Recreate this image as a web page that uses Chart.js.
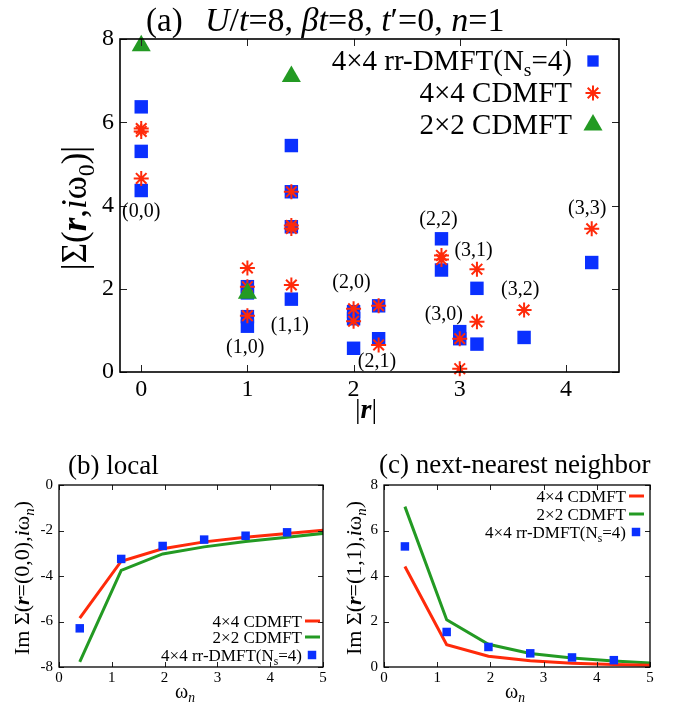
<!DOCTYPE html>
<html>
<head>
<meta charset="utf-8">
<script src="https://cdn.jsdelivr.net/npm/chart.js@4.4.0/dist/chart.umd.min.js"></script>
<style>
  body { margin: 0; background: #fff; }
  #wrap { position: relative; width: 678px; height: 706px; }
  canvas { position: absolute; }
</style>
</head>
<body>
<div id="wrap">
  <canvas id="chartA" width="678" height="430" style="left:0;top:0"></canvas>
  <canvas id="chartB" width="340" height="286" style="left:0;top:420px"></canvas>
  <canvas id="chartC" width="338" height="286" style="left:340px;top:420px"></canvas>
</div>
<script>
// ---- panel (a): |Sigma(r, i w0)| vs |r|
const sites = ['(0,0)', '(1,0)', '(1,1)', '(2,0)', '(2,1)', '(2,2)', '(3,0)', '(3,1)', '(3,2)', '(3,3)'];
const siteR = [0, 1, 1.414, 2, 2.236, 2.828, 3, 3.162, 3.606, 4.243];
const rrDmft = [[6.37, 5.30, 4.36], [2.05, 1.9, 1.33, 1.1], [5.44, 4.33, 3.49, 1.75], [1.45, 1.28, 0.57],
  [1.59, 0.8], [3.2, 2.45], [0.97, 0.8], [2.01, 0.67], [0.83], [2.63]];
const cdmft4 = [[5.85, 5.78, 4.65], [2.5, 2.05, 1.35], [4.33, 3.52, 3.45, 2.09], [1.52, 1.22],
  [1.59, 0.65], [2.8, 2.7], [0.8, 0.08], [2.47, 1.21], [1.49], [3.44]];
const cdmft2 = [[7.84], [1.89], [7.1], [], [], [], [], [], [], []];
const siteLabelR = [0, 0.98, 1.4, 1.98, 2.22, 2.8, 2.85, 3.13, 3.57, 4.2];
const siteLabelY = [3.85, 0.58, 1.1, 2.14, 0.25, 3.65, 1.37, 2.92, 1.97, 3.93];
const xTicksA = [0, 1, 2, 3, 4];
const yTicksA = [0, 2, 4, 6, 8];

// ---- panels (b), (c): Im Sigma vs Matsubara frequency
const omega = [0.393, 1.178, 1.963, 2.749, 3.534, 4.320, 5.105];
const localCdmft4 = [-5.85, -3.35, -2.8, -2.5, -2.3, -2.13, -1.97];
const localCdmft2 = [-7.77, -3.75, -3.03, -2.72, -2.48, -2.3, -2.1];
const localRr = [-6.3, -3.25, -2.68, -2.4, -2.23, -2.08];
const nnnCdmft4 = [4.42, 0.98, 0.47, 0.27, 0.17, 0.11, 0.07];
const nnnCdmft2 = [7.05, 2.08, 1.0, 0.59, 0.4, 0.26, 0.16];
const nnnRr = [5.3, 1.54, 0.88, 0.6, 0.42, 0.3];
const xTicksBC = [0, 1, 2, 3, 4, 5];
const yTicksB = [-8, -6, -4, -2, 0];
const yTicksC = [0, 2, 4, 6, 8];

const SERIF = '"Liberation Serif", "Times New Roman", serif';
const BLUE = '#0a30ff', RED = '#ff2a0a', GREEN = '#239a23';

const pts = (xs, ys) => ys.map((y, i) => ({ x: xs[i], y }));
const sitePts = vals => vals.flatMap((v, i) => v.map(y => ({ x: siteR[i], y })));

// rich text: segments {t, f:'italic'|'bold italic', sub}
function segFont(s, size) {
  const sz = s.sub ? size * 0.68 : size;
  return (s.f ? s.f + ' ' : '') + sz + 'px ' + SERIF;
}
function drawRich(ctx, segs, x, y, size, align, rotate) {
  ctx.save();
  ctx.translate(x, y);
  if (rotate) ctx.rotate(-Math.PI / 2);
  let w = 0;
  segs.forEach(s => { ctx.font = segFont(s, size); w += ctx.measureText(s.t).width; });
  let cx = align === 'center' ? -w / 2 : align === 'right' ? -w : 0;
  ctx.textAlign = 'left';
  ctx.textBaseline = 'alphabetic';
  ctx.fillStyle = '#000';
  segs.forEach(s => {
    ctx.font = segFont(s, size);
    ctx.fillText(s.t, cx, s.sub ? size * 0.22 : 0);
    cx += ctx.measureText(s.t).width;
  });
  ctx.restore();
}

// box + inward ticks on all four sides
function framePlugin(tickLen, lw) {
  return {
    id: 'frame',
    afterDatasetsDraw(chart) {
      const { ctx, chartArea: a, scales } = chart;
      ctx.save();
      ctx.strokeStyle = '#222';
      ctx.lineWidth = 1;
      ctx.beginPath();
      scales.x.ticks.forEach(t => {
        const px = Math.round(scales.x.getPixelForValue(t.value)) + 0.5;
        ctx.moveTo(px, a.bottom); ctx.lineTo(px, a.bottom - tickLen);
        ctx.moveTo(px, a.top); ctx.lineTo(px, a.top + tickLen);
      });
      scales.y.ticks.forEach(t => {
        const py = Math.round(scales.y.getPixelForValue(t.value)) + 0.5;
        ctx.moveTo(a.left, py); ctx.lineTo(a.left + tickLen, py);
        ctx.moveTo(a.right, py); ctx.lineTo(a.right - tickLen, py);
      });
      ctx.stroke();
      ctx.strokeStyle = '#000';
      ctx.lineWidth = lw;
      ctx.strokeRect(a.left, a.top, a.right - a.left, a.bottom - a.top);
      ctx.restore();
    }
  };
}

function axes(xMin, xMax, xTicks, yMin, yMax, yTicks, fontSize, yWidth, xHeight, pad) {
  const fixTicks = list => s => { s.ticks = list.map(v => ({ value: v })); };
  return {
    x: {
      type: 'linear', min: xMin, max: xMax,
      afterBuildTicks: fixTicks(xTicks),
      afterFit: s => { s.height = xHeight; },
      grid: { display: false, drawTicks: false }, border: { display: false },
      ticks: { color: '#000', font: { family: SERIF, size: fontSize }, padding: pad[0], maxRotation: 0, callback: v => String(v) }
    },
    y: {
      type: 'linear', min: yMin, max: yMax,
      afterBuildTicks: fixTicks(yTicks),
      afterFit: s => { s.width = yWidth; },
      grid: { display: false, drawTicks: false }, border: { display: false },
      ticks: { color: '#000', font: { family: SERIF, size: fontSize }, padding: pad[1], callback: v => String(v) }
    }
  };
}

const baseOpts = {
  responsive: false,
  animation: false,
  devicePixelRatio: 1,
  plugins: { legend: { display: false }, tooltip: { enabled: false } }
};

// Panel (a)
new Chart(document.getElementById('chartA'), {
  type: 'scatter',
  data: {
    datasets: [
      { label: '4×4 rr-DMFT(Ns=4)', data: sitePts(rrDmft), order: 3, clip: false,
        pointStyle: 'rect', pointRadius: 9.5, backgroundColor: BLUE, borderWidth: 0, pointBorderWidth: 0 },
      { label: '4×4 CDMFT', data: sitePts(cdmft4), order: 2, clip: false,
        pointStyle: 'star', pointRadius: 7.5, borderColor: RED, backgroundColor: RED, pointBorderWidth: 2 },
      { label: '2×2 CDMFT', data: sitePts(cdmft2), order: 1, clip: false,
        pointStyle: 'triangle', pointRadius: 11, backgroundColor: GREEN, borderWidth: 0, pointBorderWidth: 0 }
    ]
  },
  options: {
    ...baseOpts,
    layout: { padding: { left: 0, top: 39, right: 59, bottom: 0 } },
    scales: axes(-0.2, 4.5, xTicksA, 0, 8, yTicksA, 24, 120, 58, [3, 6])
  },
  plugins: [framePlugin(7, 1.6), {
    id: 'textA',
    afterDraw(chart) {
      const { ctx, scales } = chart;
      // title
      drawRich(ctx, [{ t: '(a)' }], 146, 31, 33, 'left');
      drawRich(ctx, [{ t: 'U', f: 'italic' }, { t: '/' }, { t: 't', f: 'italic' }, { t: '=8, ' },
        { t: 'β', f: 'italic' }, { t: 't', f: 'italic' }, { t: '=8, ' }, { t: 't', f: 'italic' }, { t: '′=0, ' },
        { t: 'n', f: 'italic' }, { t: '=1' }], 205, 31, 34, 'left');
      // axis titles
      drawRich(ctx, [{ t: '|Σ(' }, { t: 'r', f: 'bold italic' }, { t: ',' }, { t: 'i', f: 'italic' },
        { t: 'ω' }, { t: '0', sub: true }, { t: ')|' }], 86, 208, 35, 'center', true);
      drawRich(ctx, [{ t: '|' }, { t: 'r', f: 'bold italic' }, { t: '|' }], 366, 418, 28, 'center');
      // site labels
      ctx.save();
      ctx.font = '20px ' + SERIF;
      ctx.fillStyle = '#000';
      ctx.textAlign = 'center';
      ctx.textBaseline = 'middle';
      sites.forEach((s, i) => {
        ctx.fillText(s, scales.x.getPixelForValue(siteLabelR[i]), scales.y.getPixelForValue(siteLabelY[i]));
      });
      ctx.restore();
      // legend
      const rows = [
        { segs: [{ t: '4×4 rr-DMFT(N' }, { t: 's', sub: true }, { t: '=4)' }], style: 'rect', r: 8, y: 61 },
        { segs: [{ t: '4×4 CDMFT' }], style: 'star', r: 7.5, y: 93 },
        { segs: [{ t: '2×2 CDMFT' }], style: 'triangle', r: 11, y: 125 }
      ];
      const cols = [BLUE, RED, GREEN];
      rows.forEach((row, i) => {
        drawRich(ctx, row.segs, 572, row.y + 9, 29, 'right');
        ctx.save();
        ctx.fillStyle = cols[i];
        ctx.strokeStyle = cols[i];
        ctx.lineWidth = 2;
        Chart.helpers.drawPoint(ctx, { pointStyle: row.style, radius: row.r, rotation: 0, borderWidth: row.style === 'star' ? 2 : 0 }, 593, row.y);
        ctx.restore();
      });
    }
  }]
});

function omegaPanel(id, yMin, yMax, yTicks, c4, c2, rr, yWidth, padRight, text) {
  return new Chart(document.getElementById(id), {
    type: 'line',
    data: {
      datasets: [
        { data: pts(omega, rr), order: 0, showLine: false, pointStyle: 'rect', pointRadius: 6,
          pointBackgroundColor: BLUE, pointBorderWidth: 0 },
        { data: pts(omega, c4), order: 1, borderColor: RED, borderWidth: 3, pointRadius: 0, tension: 0 },
        { data: pts(omega, c2), order: 2, borderColor: GREEN, borderWidth: 3, pointRadius: 0, tension: 0 }
      ]
    },
    options: {
      ...baseOpts,
      layout: { padding: { left: 0, top: 65, right: padRight, bottom: 0 } },
      scales: axes(0, 5, xTicksBC, yMin, yMax, yTicks, 15, yWidth, 39, [2, 6])
    },
    plugins: [framePlugin(5, 1.3), { id: 'text', afterDraw: chart => text(chart.ctx) }]
  });
}

function smallLegend(ctx, xr, ys) {
  const rows = [
    { segs: [{ t: '4×4 CDMFT' }], col: RED, line: true },
    { segs: [{ t: '2×2 CDMFT' }], col: GREEN, line: true },
    { segs: [{ t: '4×4 rr-DMFT(N' }, { t: 's', sub: true }, { t: '=4)' }], col: BLUE, line: false }
  ];
  rows.forEach((row, i) => {
    drawRich(ctx, row.segs, xr, ys[i] + 6, 17, 'right');
    ctx.save();
    if (row.line) {
      ctx.strokeStyle = row.col;
      ctx.lineWidth = 3;
      ctx.beginPath();
      ctx.moveTo(xr + 3, ys[i]);
      ctx.lineTo(xr + 18, ys[i]);
      ctx.stroke();
    } else {
      ctx.fillStyle = row.col;
      Chart.helpers.drawPoint(ctx, { pointStyle: 'rect', radius: 6, rotation: 0, borderWidth: 0 }, xr + 10, ys[i]);
    }
    ctx.restore();
  });
}

omegaPanel('chartB', -8, 0, yTicksB, localCdmft4, localCdmft2, localRr, 59, 17, ctx => {
  drawRich(ctx, [{ t: '(b) local' }], 68, 54, 27, 'left');
  drawRich(ctx, [{ t: 'Im Σ(' }, { t: 'r', f: 'bold italic' }, { t: '=(0,0),' }, { t: 'i', f: 'italic' },
    { t: 'ω' }, { t: 'n', f: 'italic', sub: true }, { t: ')' }], 29, 158, 22, 'center', true);
  drawRich(ctx, [{ t: 'ω' }, { t: 'n', f: 'italic', sub: true }], 185, 278, 20, 'center');
  smallLegend(ctx, 302, [201, 217, 235]);
});

omegaPanel('chartC', 0, 8, yTicksC, nnnCdmft4, nnnCdmft2, nnnRr, 44, 28, ctx => {
  drawRich(ctx, [{ t: '(c) next-nearest neighbor' }], 39, 53, 27, 'left');
  drawRich(ctx, [{ t: 'Im Σ(' }, { t: 'r', f: 'bold italic' }, { t: '=(1,1),' }, { t: 'i', f: 'italic' },
    { t: 'ω' }, { t: 'n', f: 'italic', sub: true }, { t: ')' }], 21, 158, 22, 'center', true);
  drawRich(ctx, [{ t: 'ω' }, { t: 'n', f: 'italic', sub: true }], 175, 278, 20, 'center');
  smallLegend(ctx, 286, [76, 94, 112]);
});
</script>
</body>
</html>
